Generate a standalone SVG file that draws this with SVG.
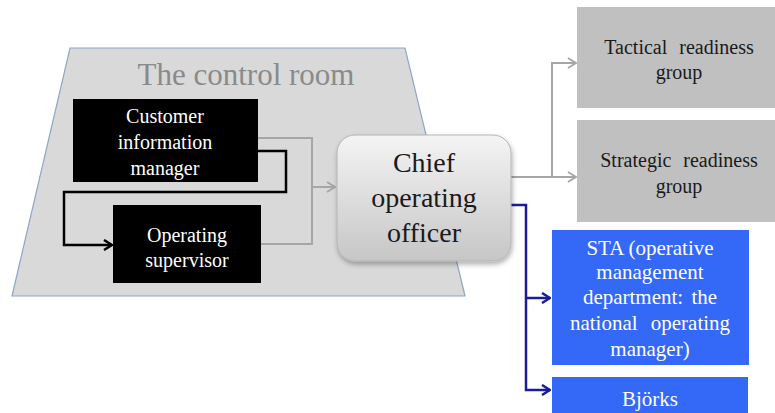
<svg xmlns="http://www.w3.org/2000/svg" width="775" height="413" viewBox="0 0 775 413" font-family="'Liberation Serif', 'Times New Roman', serif">
  <style>
    text { text-anchor: middle; }
    .dark { fill: #000000; }
    .darktxt { fill: #ffffff; font-size: 20px; }
    .graybox { fill: #c0c0c0; }
    .graytxt { fill: #1a1a1a; font-size: 20px; word-spacing: 7px; }
    .bluebox { fill: #3468f6; }
    .bluetxt { fill: #ffffff; font-size: 21px; }
    .c-gray { fill: none; stroke: #a6a6a6; stroke-width: 2; }
    .c-black { fill: none; stroke: #000000; stroke-width: 2.5; }
    .c-blue { fill: none; stroke: #1c1c96; stroke-width: 2.5; }
  </style>
  <defs>
    <linearGradient id="chiefFill" x1="0" y1="0" x2="0" y2="1">
      <stop offset="0" stop-color="#f4f4f4"/>
      <stop offset="1" stop-color="#c6c6c6"/>
    </linearGradient>
    <filter id="shadow" x="-10%" y="-10%" width="125%" height="130%">
      <feDropShadow dx="1" dy="3" stdDeviation="2.5" flood-color="#000" flood-opacity="0.3"/>
    </filter>
    <marker id="arrGray" viewBox="0 0 10 12" refX="9" refY="6" markerWidth="10" markerHeight="12" markerUnits="userSpaceOnUse" orient="auto">
      <path d="M1,1 L9,6 L1,11" fill="none" stroke="#a6a6a6" stroke-width="2"/>
    </marker>
    <marker id="arrBlack" viewBox="0 0 10 12" refX="9" refY="6" markerWidth="10" markerHeight="12" markerUnits="userSpaceOnUse" orient="auto">
      <path d="M1,1 L9,6 L1,11" fill="none" stroke="#000000" stroke-width="2.5"/>
    </marker>
    <marker id="arrBlue" viewBox="0 0 10 12" refX="9" refY="6" markerWidth="10" markerHeight="12" markerUnits="userSpaceOnUse" orient="auto">
      <path d="M1,1 L9,6 L1,11" fill="none" stroke="#1c1c96" stroke-width="2.5"/>
    </marker>
  </defs>

  <rect width="775" height="413" fill="#ffffff"/>

  <!-- control room area -->
  <g id="control-room">
    <polygon points="70,48 405,48 465,296 12,296" fill="#d9d9d9" stroke="#8ea6c4" stroke-width="1.2"/>
    <text x="246" y="85" font-size="31" fill="#8a8a8a">The control room</text>
  </g>

  <!-- connectors -->
  <g id="connectors">
    <path class="c-gray" d="M258,138 H312 V244 H261"/>
    <path class="c-gray" d="M312,187 H335" marker-end="url(#arrGray)"/>
    <path class="c-black" d="M258,151 H286 V192 H64 V245 H112" marker-end="url(#arrBlack)"/>
    <path class="c-gray" d="M511,177 H576" marker-end="url(#arrGray)"/>
    <path class="c-gray" d="M552,177 V63 H576" marker-end="url(#arrGray)"/>
    <path class="c-blue" d="M511,205 H526 V390 H550" marker-end="url(#arrBlue)"/>
    <path class="c-blue" d="M526,298 H550" marker-end="url(#arrBlue)"/>
  </g>

  <g id="customer-information-manager">
    <rect class="dark" x="73" y="99" width="185" height="83"/>
    <text class="darktxt" x="165" y="123">Customer</text>
    <text class="darktxt" x="165" y="149">information</text>
    <text class="darktxt" x="165" y="175">manager</text>
  </g>

  <g id="operating-supervisor">
    <rect class="dark" x="113" y="205" width="148" height="78"/>
    <text class="darktxt" x="187" y="242">Operating</text>
    <text class="darktxt" x="187" y="267">supervisor</text>
  </g>

  <g id="chief-operating-officer">
    <rect x="337" y="135" width="174" height="126" rx="18" fill="url(#chiefFill)" stroke="#b4b4b4" stroke-width="1" filter="url(#shadow)"/>
    <text x="424" y="172" font-size="28" fill="#1a1a1a">Chief</text>
    <text x="424" y="207" font-size="28" fill="#1a1a1a">operating</text>
    <text x="424" y="242" font-size="28" fill="#1a1a1a">officer</text>
  </g>

  <g id="tactical-readiness-group">
    <rect class="graybox" x="577" y="7" width="198" height="101"/>
    <text class="graytxt" x="679" y="54">Tactical readiness</text>
    <text class="graytxt" x="679" y="79">group</text>
  </g>

  <g id="strategic-readiness-group">
    <rect class="graybox" x="577" y="120" width="198" height="102"/>
    <text class="graytxt" x="679" y="167">Strategic readiness</text>
    <text class="graytxt" x="679" y="193">group</text>
  </g>

  <g id="sta">
    <rect class="bluebox" x="552" y="230" width="197" height="135"/>
    <text class="bluetxt" x="650" y="255">STA (operative</text>
    <text class="bluetxt" x="650" y="279">management</text>
    <text class="bluetxt" x="650" y="304" word-spacing="3">department: the</text>
    <text class="bluetxt" x="650" y="330" word-spacing="8">national operating</text>
    <text class="bluetxt" x="650" y="356">manager)</text>
  </g>

  <g id="bjorks">
    <rect class="bluebox" x="552" y="377" width="196" height="36"/>
    <text class="bluetxt" x="650" y="406">Björks</text>
  </g>
</svg>
